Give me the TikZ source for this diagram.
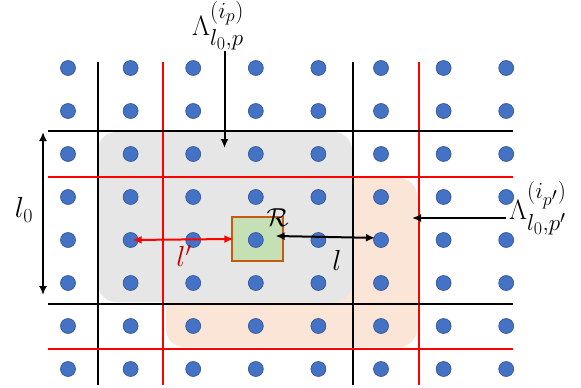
\RequirePackage{fix-cm}
\documentclass[tikz,border=0pt]{standalone}
\usepackage{amsmath,amssymb}
\usepackage{tikz}
\usetikzlibrary{calc,positioning,arrows.meta}
\DeclareMathSizes{26}{26}{19}{15}
\DeclareMathSizes{28}{28}{23}{18}
\DeclareMathSizes{29}{29}{20}{16}
\definecolor{ltdot}   {HTML}{4472C4}
\definecolor{ltdotrim}{HTML}{2F528F}
\definecolor{ltgray}  {HTML}{E7E6E6}
\definecolor{ltorange}{HTML}{FBE5D6}
\definecolor{ltgreen} {HTML}{C5E0B4}
\definecolor{ltbrown} {HTML}{C55A11}
\definecolor{ltred}   {HTML}{FF0000}
\definecolor{ltlabred}{HTML}{C00000}

\begin{document}
\begin{tikzpicture}[x=1pt, y=-1pt,
    every node/.style={font=\fontsize{26}{30}\selectfont},
    blocklabel/.style={anchor=base west, inner sep=1pt, font=\fontsize{28}{32}\selectfont},
    site/.style={circle, fill=ltdot, draw=ltdotrim, line width=0.6pt,
                 inner sep=0pt, minimum size=15pt},
    gridline/.style={line width=2pt},
    tip/.style={line width=2pt, arrows={-Latex[length=9pt,width=8pt]}},
    twotip/.style={line width=2pt, arrows={Latex[length=9pt,width=8pt]-Latex[length=9pt,width=8pt]}}]
      \useasboundingbox (0,0) rectangle (581,388);
      \fill[ltorange, rounded corners=18pt] (166,178) rectangle (417,347);
      \fill[ltgray, rounded corners=18pt] (98,132) rectangle (352,302);
      \foreach \x in {97.5, 352.7}
        \draw[gridline, draw=black] (\x,62) -- (\x,385);
      \foreach \x in {163.3, 419.3}
        \draw[gridline, draw=ltred] (\x,62) -- (\x,385);
      \foreach \y in {131, 304.3}
        \draw[gridline, draw=black] (48,\y) -- (513,\y);
      \foreach \y in {177.3, 349.3}
        \draw[gridline, draw=ltred] (48,\y) -- (513,\y);
      \node[fill=ltgreen, draw=ltbrown, line width=1.2pt, minimum width=51pt,
            minimum height=44pt, inner sep=0pt] (R) at (257.5,239) {};
      \foreach \i in {0,...,7}
        \foreach \j in {0,...,7}
          \node[site] (d\i\j) at ({68+62.6*\i},{68+43.0*\j}) {};
      \node (Rlab) at ([xshift=-6pt,yshift=-1pt]R.north east) {$\mathcal{R}$};
      \draw[twotip, draw=ltred, fill=ltred, shorten <=2pt, shorten >=-2pt] (d14.center) -- (R.west);
      \node[ltlabred, font=\fontsize{29}{33}\selectfont] (lp) at (184,256) {$l'$};
      \draw[twotip, draw=black, shorten >=6pt] ([xshift=-8pt,yshift=3pt]R.east) -- ([yshift=2pt]d54.center);
      \node[font=\fontsize{29}{33}\selectfont] (l) at (337,260) {$l$};
      % l_0 arrow on the left
      \coordinate (lotop) at (43,132);
      \coordinate (lobot) at (43,295);
      \draw[twotip, draw=black] (lotop) -- (lobot);
      \node[font=\fontsize{29}{33}\selectfont] (lo) at (24,210) {$l_0$};
      % the two block labels
      \node[blocklabel] (lamp) at (191,35) {$\Lambda_{l_0,p}^{(i_p)}$};
      \coordinate (lampend) at (224.5,148);
      \draw[tip] (lamp.south -| lampend) -- (lampend);
      \node[blocklabel] (lampp) at (508,219) {$\Lambda_{l_0,p'}^{(i_{p'})}$};
      \coordinate (lamppend) at (412,218);
      \draw[tip] ([xshift=-2pt]lampp.west |- lamppend) -- (lamppend);
\end{tikzpicture}
\end{document}
